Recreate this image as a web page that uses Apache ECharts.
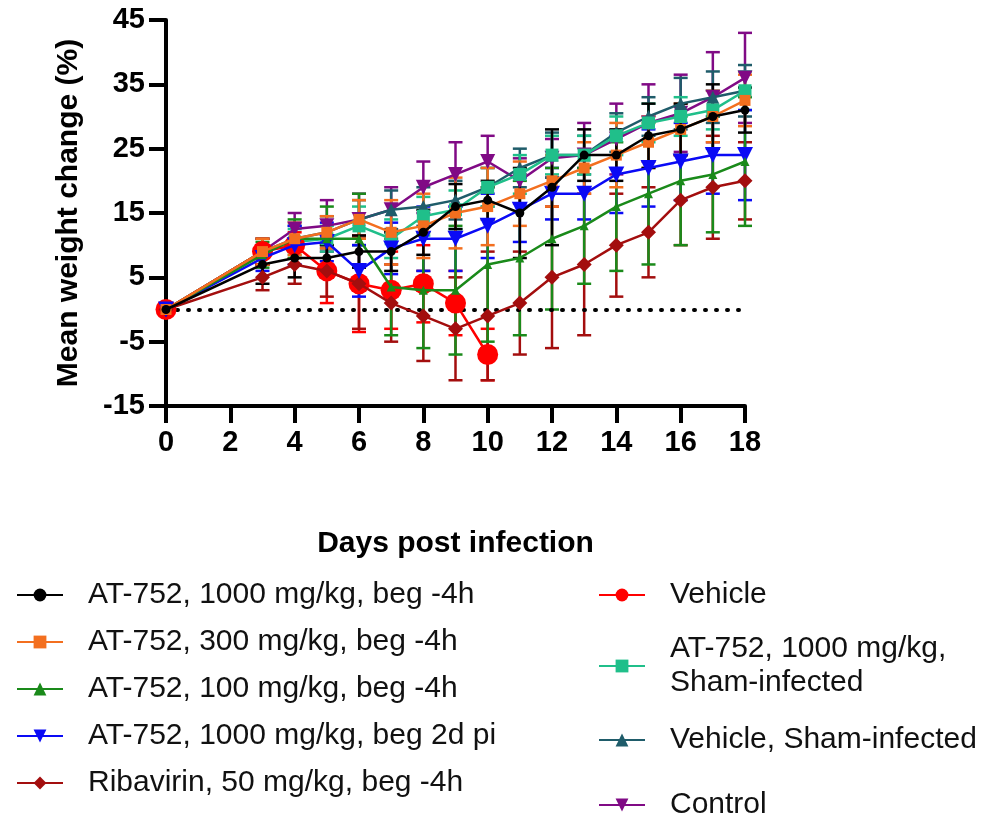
<!DOCTYPE html>
<html>
<head>
<meta charset="utf-8">
<title>Mean weight change</title>
<script src="https://cdn.jsdelivr.net/npm/echarts@6/dist/echarts.min.js"></script>
<style>
  html, body { margin: 0; padding: 0; background: #fff; }
  #chart { width: 990px; height: 820px; }
</style>
</head>
<body>
<div id="chart"></div>
<script>
const days = [0, 3, 4, 5, 6, 7, 8, 9, 10, 11, 12, 13, 14, 15, 16, 17, 18];
const vehicleDays = [0, 3, 4, 5, 6, 7, 8, 9, 10];

const at1000 = [0, 7, 8, 8, 9, 9, 12, 16, 17, 15, 19, 24, 24, 27, 28, 30, 31];
const at1000Sd = [0, 3, 3, 2, 2.5, 3, 3.5, 3.5, 3, 7, 9, 4, 4, 5, 4, 5, 3.5];
const at300 = [0, 9, 11, 12, 14, 12, 13, 15, 16, 18, 20, 22, 24, 26, 28, 30, 32.5];
const at300Sd = [0, 2, 2.5, 2.5, 3, 5, 5, 5.5, 6, 5, 4, 4, 5, 4, 4, 4, 4];
const at100 = [0, 8.5, 11, 11, 11, 3.5, 3, 3, 7, 8, 11, 13, 16, 18, 20, 21, 23];
const at100Sd = [0, 2, 3, 5, 7, 7.5, 9, 10, 12, 12, 11, 9, 10, 11, 10, 9, 10];
const at1000Late = [0, 8, 10, 10.5, 6, 9.5, 11, 11, 13, 15.5, 18, 18, 21, 22, 23, 24, 24];
const at1000LateSd = [0.5, 2, 3, 3, 4, 4, 5, 5, 5, 5, 4, 4, 6, 6, 6, 6, 7];
const ribavirin = [0, 5, 7, 6, 4, 1, -1, -3, -1, 1, 5, 7, 10, 12, 17, 19, 20];
const ribavirinSd = [0, 2, 3, 4, 7, 6, 7, 8, 10, 8, 11, 11, 8, 7, 7, 8, 6];
const vehicle = [0, 9, 10, 6, 4, 3, 4, 1, -7];
const vehicleSd = [0, 2, 2, 5, 7.5, 6, 6, 5, 4];
const shamAt = [0, 9, 10.5, 11, 13, 11, 14.5, 15.5, 19, 21, 24, 24, 27, 29, 30, 31, 34];
const shamAtSd = [0, 2, 2, 2, 3, 3, 3, 3, 3, 3, 3, 3, 3, 3, 3, 3, 3];
const shamVehicle = [0, 9, 11, 12, 14, 15.5, 16, 17, 19, 22, 24, 24, 27.5, 30, 32, 33, 34];
const shamVehicleSd = [0, 2, 2, 2.5, 3, 3, 3, 3, 3, 3, 3.5, 3, 3, 3, 4, 4, 4];
const control = [0, 9, 12.5, 13, 14, 15.5, 19, 21, 23, 20, 23.5, 24, 26.5, 29, 30.5, 33, 36];
const controlSd = [0, 2, 2.5, 4, 4, 3.5, 4, 5, 4, 3.5, 3, 5, 5.5, 6, 6, 7, 7];

const yTicks = [-15, -5, 5, 15, 25, 35, 45];

const FONT = "'Liberation Sans', Arial, sans-serif";

// drawn in this order, so the last one sits on top
const groups = [
  { name: 'Control', x: days, y: control, sd: controlSd, color: '#800a85', symbol: 'triangle', size: 15, rotate: 180 },
  { name: 'Vehicle, Sham-infected', x: days, y: shamVehicle, sd: shamVehicleSd, color: '#1f5c6a', symbol: 'triangle', size: 13, rotate: 0 },
  { name: 'AT-752, 1000 mg/kg,\nSham-infected', x: days, y: shamAt, sd: shamAtSd, color: '#20bf8a', symbol: 'rect', size: 13, rotate: 0 },
  { name: 'Vehicle', x: vehicleDays, y: vehicle, sd: vehicleSd, color: '#ff0000', symbol: 'circle', size: 21, rotate: 0 },
  { name: 'Ribavirin, 50 mg/kg, beg -4h', x: days, y: ribavirin, sd: ribavirinSd, color: '#a30e0e', symbol: 'diamond', size: 15, rotate: 0 },
  { name: 'AT-752, 1000 mg/kg, beg 2d pi', x: days, y: at1000Late, sd: at1000LateSd, color: '#0a0af5', symbol: 'triangle', size: 16, rotate: 180 },
  { name: 'AT-752, 100 mg/kg, beg -4h', x: days, y: at100, sd: at100Sd, color: '#1a8a1a', symbol: 'triangle', size: 9, rotate: 0 },
  { name: 'AT-752, 300 mg/kg, beg -4h', x: days, y: at300, sd: at300Sd, color: '#f36f1f', symbol: 'rect', size: 11, rotate: 0 },
  { name: 'AT-752, 1000 mg/kg, beg -4h', x: days, y: at1000, sd: at1000Sd, color: '#000000', symbol: 'circle', size: 9, rotate: 0 }
];

function renderErrorBar(params, api) {
  const x = api.value(0);
  const lo = api.coord([x, api.value(1)]);
  const hi = api.coord([x, api.value(2)]);
  const cap = 7;
  const style = { stroke: api.visual('color'), lineWidth: 2.5 };
  return {
    type: 'group',
    children: [
      { type: 'line', shape: { x1: hi[0], y1: hi[1], x2: lo[0], y2: lo[1] }, style: style },
      { type: 'line', shape: { x1: hi[0] - cap, y1: hi[1], x2: hi[0] + cap, y2: hi[1] }, style: style },
      { type: 'line', shape: { x1: lo[0] - cap, y1: lo[1], x2: lo[0] + cap, y2: lo[1] }, style: style }
    ]
  };
}

const series = [];
groups.forEach(function (g) {
  series.push({
    name: g.name + ' SD',
    type: 'custom',
    renderItem: renderErrorBar,
    itemStyle: { color: g.color },
    encode: { x: 0, y: [1, 2] },
    data: g.x.map(function (d, i) { return [d, g.y[i] - g.sd[i], g.y[i] + g.sd[i]]; }).filter(function (r, i) { return g.sd[i] > 0; }),
    silent: true,
    z: 2
  });
});
groups.forEach(function (g, k) {
  const s = {
    name: g.name,
    type: 'line',
    data: g.x.map(function (d, i) { return [d, g.y[i]]; }),
    symbol: g.symbol,
    symbolSize: g.size,
    symbolRotate: g.rotate,
    showSymbol: true,
    lineStyle: { color: g.color, width: 2.5 },
    itemStyle: { color: g.color },
    z: 3 + k
  };
  if (k === 0) {
    s.markLine = {
      silent: true,
      symbol: 'none',
      label: { show: false },
      lineStyle: { color: '#000', width: 4, type: [1, 10], cap: 'round' },
      data: [{ yAxis: 0 }]
    };
  }
  series.push(s);
});

const legendText = { fontFamily: FONT, fontSize: 30, color: '#111', lineHeight: 34, padding: [0, 0, 0, 20] };
const rightCol = [
  { name: 'Vehicle', top: 578 },
  { name: 'AT-752, 1000 mg/kg,\nSham-infected', top: 632 },
  { name: 'Vehicle, Sham-infected', top: 723 },
  { name: 'Control', top: 788 }
];
const legends = [{
  orient: 'vertical',
  left: 16,
  top: 578,
  padding: 0,
  itemGap: 13,
  itemWidth: 46,
  itemHeight: 16,
  selectedMode: false,
  textStyle: legendText,
  data: [
    'AT-752, 1000 mg/kg, beg -4h',
    'AT-752, 300 mg/kg, beg -4h',
    'AT-752, 100 mg/kg, beg -4h',
    'AT-752, 1000 mg/kg, beg 2d pi',
    'Ribavirin, 50 mg/kg, beg -4h'
  ]
}];
rightCol.forEach(function (r) {
  legends.push({
    orient: 'vertical',
    left: 598,
    top: r.top,
    padding: 0,
    itemWidth: 46,
    itemHeight: 16,
    selectedMode: false,
    textStyle: legendText,
    data: [r.name]
  });
});

const chart = echarts.init(document.getElementById('chart'));
chart.setOption({
  animation: false,
  backgroundColor: '#fff',
  grid: { left: 166, top: 20, width: 579, height: 386 },
  legend: legends,
  xAxis: {
    type: 'value',
    min: 0,
    max: 18,
    interval: 2,
    name: 'Days post infection',
    nameLocation: 'middle',
    nameGap: 123,
    nameTextStyle: { fontFamily: FONT, fontSize: 30, fontWeight: 'bold', color: '#000' },
    axisLine: { onZero: false, lineStyle: { color: '#000', width: 4 } },
    axisTick: { length: 17, lineStyle: { color: '#000', width: 4 } },
    axisLabel: { margin: 22, fontFamily: FONT, fontSize: 29, fontWeight: 'bold', color: '#000' },
    splitLine: { show: false }
  },
  yAxis: {
    type: 'value',
    min: yTicks[0],
    max: yTicks[yTicks.length - 1],
    interval: 10,
    name: 'Mean weight change (%)',
    nameLocation: 'middle',
    nameGap: 82,
    nameRotate: 90,
    nameTextStyle: { fontFamily: FONT, fontSize: 30, fontWeight: 'bold', color: '#000' },
    axisLine: { show: true, onZero: false, lineStyle: { color: '#000', width: 4 } },
    axisTick: { show: true, length: 17, lineStyle: { color: '#000', width: 4 } },
    axisLabel: { margin: 21, fontFamily: FONT, fontSize: 29, fontWeight: 'bold', color: '#000' },
    splitLine: { show: false }
  },
  series: series
});
</script>
</body>
</html>
